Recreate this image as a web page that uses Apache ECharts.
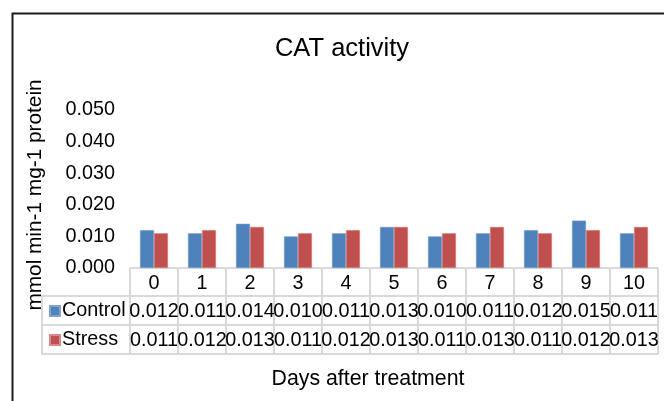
<!DOCTYPE html>
<html>
<head>
<meta charset="utf-8">
<script src="https://cdn.jsdelivr.net/npm/echarts@6/dist/echarts.min.js"></script>
<style>
html,body{margin:0;padding:0;background:#fff;}
#chart{width:664px;height:401px;}
</style>
</head>
<body>
<div id="chart"></div>
<script>
const days = ['0','1','2','3','4','5','6','7','8','9','10'];
const control = [0.012,0.011,0.014,0.010,0.011,0.013,0.010,0.011,0.012,0.015,0.011];
const stress  = [0.011,0.012,0.013,0.011,0.012,0.013,0.011,0.013,0.011,0.012,0.013];
const seriesNames = ['Control','Stress'];
const colors = ['#4F81BD','#C0504D'];
const chartTitle = 'CAT activity';
const yTitle = 'mmol min-1 mg-1 protein';
const xTitle = 'Days after treatment';

const FONT = 'Liberation Sans, Arial, sans-serif';
const GRID_LINE = '#d9d9d9';
const LABEL_SIZE = 19.8;
const fmt = v => v.toFixed(3);

const chart = echarts.init(document.getElementById('chart'), null, {renderer:'canvas'});

function tableAxis(data, offset, tickLen, margin, showTick) {
  return {
    type:'category', gridIndex:0, position:'bottom', offset:offset,
    data:data, boundaryGap:true,
    axisLine:{show:true, lineStyle:{color:GRID_LINE, width:2}},
    axisTick:{show:showTick, interval:0, length:tickLen, lineStyle:{color:GRID_LINE, width:2}},
    axisLabel:{show:true, interval:0, margin:margin, color:'#000', fontFamily:FONT, fontSize:LABEL_SIZE, lineHeight:20},
    splitLine:{show:false}
  };
}

function legendRow(name, top) {
  return {
    data:[name], left:49, top:top, padding:0, icon:'rect', itemWidth:10, itemHeight:10, selectedMode:false,
    textStyle:{fontFamily:FONT, fontSize:LABEL_SIZE, color:'#000', lineHeight:20, padding:[0,0,0,-3]}
  };
}

const option = {
  animation:false,
  backgroundColor:'#fff',
  textStyle:{fontFamily:FONT},
  color:colors,
  title:{
    text:chartTitle, left:342, top:36, textAlign:'center', padding:0,
    textStyle:{fontFamily:FONT, fontSize:25.5, fontWeight:'normal', color:'#000'}
  },
  legend:[ legendRow(seriesNames[0], 301), legendRow(seriesNames[1], 330) ],
  grid:{left:130, right:6, top:110, height:158, containLabel:false},
  xAxis:[
    tableAxis(days, 0, 28, 5.5, true),
    tableAxis(control.map(fmt), 28, 29, 6, true),
    tableAxis(stress.map(fmt), 57, 29, 6, true),
    Object.assign(tableAxis(days.map(()=>''), 86, 0, 0, false), {
      axisLabel:{show:false},
      name:xTitle, nameLocation:'middle', nameGap:15,
      nameTextStyle:{fontFamily:FONT, fontSize:21.3, color:'#000', padding:[0,52,0,0]}
    })
  ],
  yAxis:{
    type:'value', min:0, max:0.05, interval:0.01,
    axisLine:{show:false}, axisTick:{show:false}, splitLine:{show:false},
    axisLabel:{formatter:v=>v.toFixed(3), margin:15, color:'#000', fontFamily:FONT, fontSize:LABEL_SIZE, padding:[4,0,0,0]},
    name:yTitle, nameLocation:'middle', nameRotate:90, nameGap:84,
    nameTextStyle:{fontFamily:FONT, fontSize:20.8, color:'#000', padding:[0,12,0,0]}
  },
  series:[
    {name:seriesNames[0], type:'bar', xAxisIndex:0, data:control, barWidth:14, barGap:'0%',
     itemStyle:{color:colors[0], borderColor:'#7fa3d1', borderWidth:0.5}},
    {name:seriesNames[1], type:'bar', xAxisIndex:0, data:stress, barWidth:14, barGap:'0%',
     itemStyle:{color:colors[1], borderColor:'#d98a88', borderWidth:0.5}}
  ],
  graphic:[
    {type:'rect', left:10, top:11, shape:{x:0, y:0, width:700, height:420}, silent:true, z:-1,
     style:{fill:'none', stroke:'#1a1a1a', lineWidth:2}},
    {type:'rect', x:42, y:296, shape:{x:0, y:0, width:88, height:29}, silent:true,
     style:{fill:'none', stroke:GRID_LINE, lineWidth:2}},
    {type:'rect', x:42, y:325, shape:{x:0, y:0, width:88, height:29}, silent:true,
     style:{fill:'none', stroke:GRID_LINE, lineWidth:2}}
  ]
};
chart.setOption(option);
</script>
</body>
</html>
